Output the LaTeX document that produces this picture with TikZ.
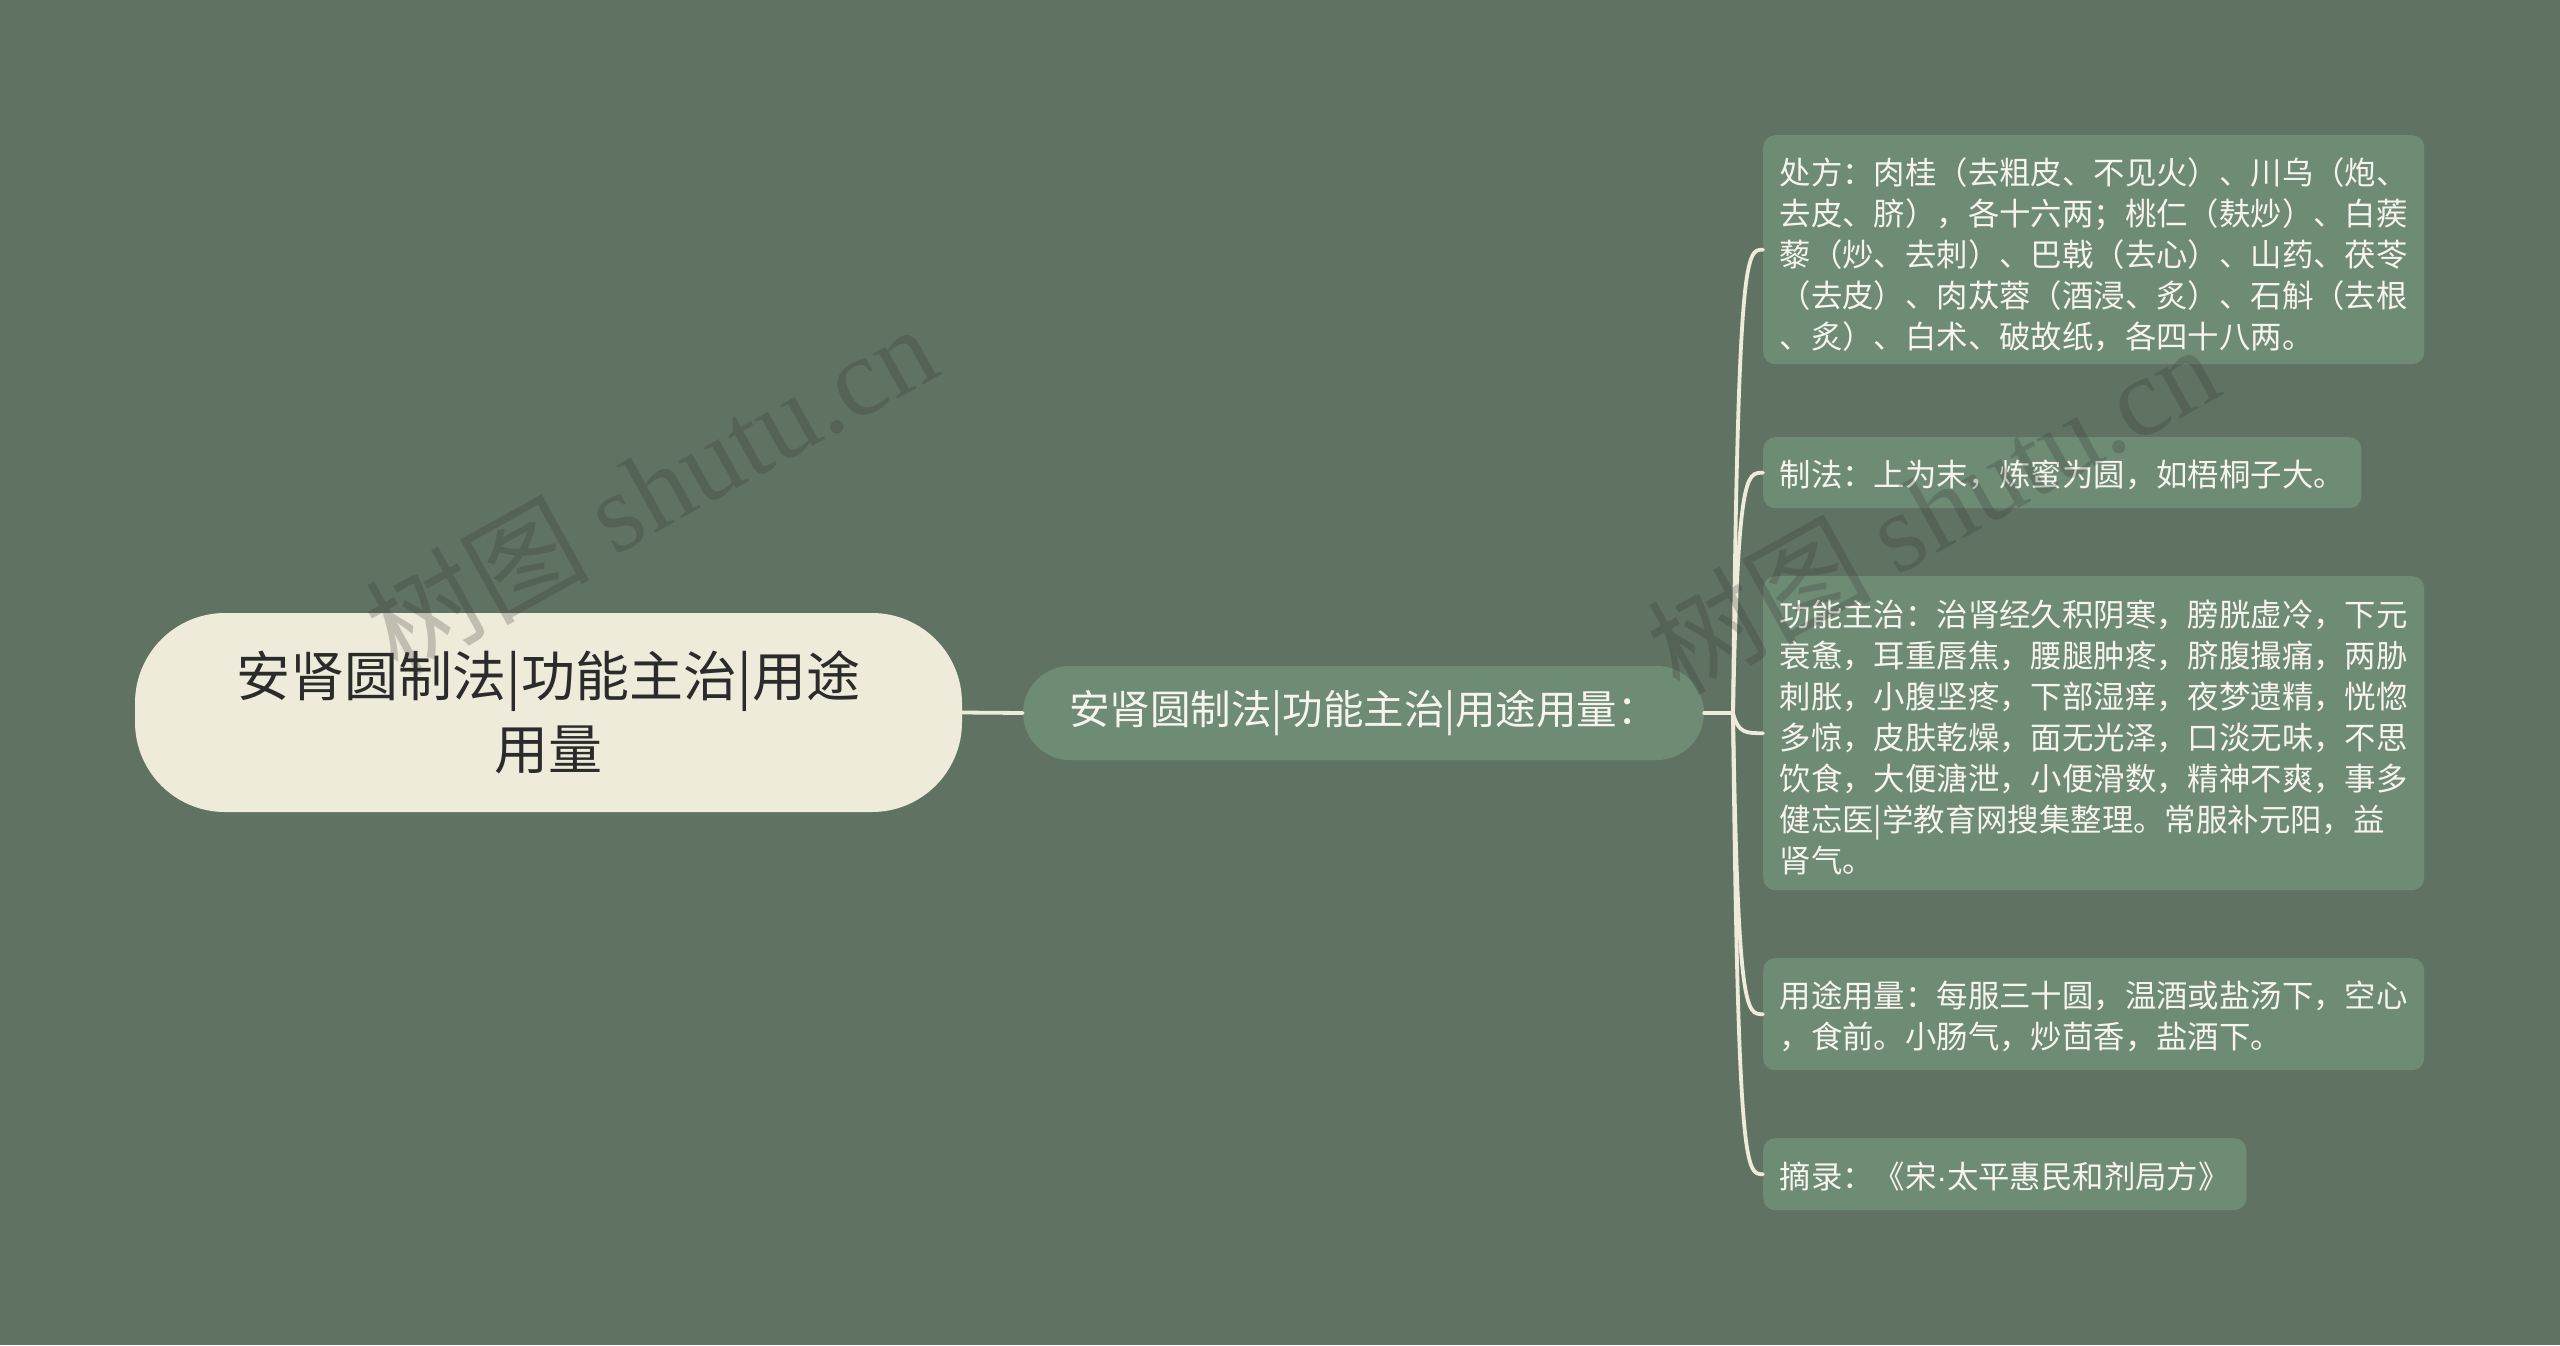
\documentclass[tikz,border=0pt]{standalone}
\usepackage{fontspec}
\setmainfont{Noto Sans CJK SC}
\newfontfamily\wmserif{Liberation Serif}
\newfontfamily\latsans{Liberation Sans}
\definecolor{bgc}{HTML}{607363}
\definecolor{boxc}{HTML}{6E8B74}
\definecolor{rootc}{HTML}{EFEBDA}
\definecolor{linec}{HTML}{EFEBDA}
\definecolor{rtext}{HTML}{2B2B2B}
\definecolor{ltext}{HTML}{F6F4EC}
\definecolor{wmc}{HTML}{373737}
\newcommand{\lowertext}[2]{\raisebox{-#1}[\height][\depth]{#2}}
\tikzset{
  rootbox/.style={fill=rootc, text=rtext, rounded corners=90pt, minimum width=827pt, minimum height=199pt, align=center, inner sep=0pt, font=\fontsize{54pt}{73pt}\selectfont},
  midbox/.style={fill=boxc, text=ltext, rounded corners=47pt, minimum width=681pt, minimum height=94pt, inner sep=0pt, font=\fontsize{40.5pt}{46pt}\selectfont},
  leafbox/.style={fill=boxc, text=ltext, rounded corners=12pt, align=left, anchor=north west, inner xsep=16.5pt, inner ysep=0pt, font=\fontsize{31.4pt}{41pt}\selectfont},
  conn/.style={draw=linec, line width=3.8pt, line cap=round},
  wmark/.style={text=wmc, opacity=0.25, rotate=29, inner sep=0pt}
}
\begin{document}
\begin{tikzpicture}[x=1pt,y=-1pt]
\useasboundingbox (0,0) rectangle (2560,1345);
\fill[bgc] (0,0) rectangle (2560,1345);

\node[rootbox] (root) at (548.5,712.5) {安肾圆制法|功能主治|用途\\用量};
\node[midbox] (mid) at (1363.5,713) {安肾圆制法|功能主治|用途用量：};

\node[leafbox, minimum height=229pt] (b1) at (1763,135) {\lowertext{5pt}{\parbox{628pt}{处方：肉桂（去粗皮、不见火）、川乌（炮、\\去皮、脐），各十六两；桃仁（麸炒）、白蒺\\藜（炒、去刺）、巴戟（去心）、山药、茯苓\\（去皮）、肉苁蓉（酒浸、炙）、石斛（去根\\、炙）、白术、破故纸，各四十八两。}}};
\node[leafbox, minimum height=71pt] (b2) at (1763,437) {\lowertext{2pt}{制法：上为末，炼蜜为圆，如梧桐子大。}};
\node[leafbox, minimum height=314pt] (b3) at (1763,576) {\lowertext{4pt}{\parbox{628pt}{功能主治：治肾经久积阴寒，膀胱虚冷，下元\\衰惫，耳重唇焦，腰腿肿疼，脐腹撮痛，两胁\\刺胀，小腹坚疼，下部湿痒，夜梦遗精，恍惚\\多惊，皮肤乾燥，面无光泽，口淡无味，不思\\饮食，大便溏泄，小便滑数，精神不爽，事多\\健忘医|学教育网搜集整理。常服补元阳，益\\肾气。}}};
\node[leafbox, minimum height=112pt] (b4) at (1763,958) {\lowertext{2pt}{\parbox{628pt}{用途用量：每服三十圆，温酒或盐汤下，空心\\，食前。小肠气，炒茴香，盐酒下。}}};
\node[leafbox, minimum height=72pt] (b5) at (1763,1138) {\lowertext{2pt}{摘录：《宋{\latsans ·}太平惠民和剂局方》}};

\coordinate (sp) at (1733,713);
\coordinate (ca) at (1738,0);
\coordinate (cb) at (1746,0);

\draw[conn] (root.east) -- (mid.west);
\draw[conn] (mid.east) -- (sp);
\foreach \b in {b1,b2,b3,b4,b5}{
  \draw[conn] (sp) .. controls (ca |- \b.west) and (cb |- \b.west) .. (\b.west);
}

\node[wmark] (wm1) at (650,488) {\fontsize{112pt}{112pt}\selectfont 树图 \wmserif shutu.cn};
\node[wmark] (wm2) at (1932,508) {\fontsize{112pt}{112pt}\selectfont 树图 \wmserif shutu.cn};
\end{tikzpicture}
\end{document}
